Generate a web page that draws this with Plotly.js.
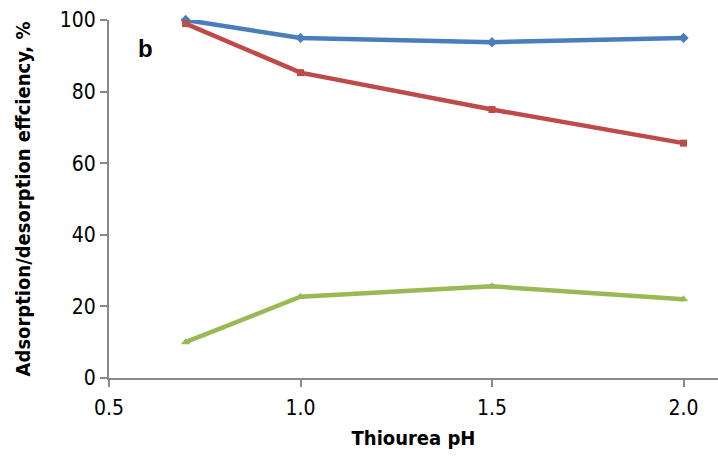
<!DOCTYPE html>
<html>
<head>
<meta charset="utf-8">
<script src="https://cdn.plot.ly/plotly-3.0.1.min.js"></script>
<style>html,body{margin:0;padding:0;background:#fff;}#chart{width:718px;height:459px;}</style>
</head>
<body>
<div id="chart"></div>
<script>
const phValues = [0.7, 1.0, 1.5, 2.0];
const seriesBlue = [100, 95, 93.8, 95];
const seriesRed = [99, 85.3, 75, 65.6];
const seriesGreen = [10, 22.7, 25.6, 22];
const xTickVals = [0.5, 1.0, 1.5, 2.0];
const xTickText = ['0.5', '1.0', '1.5', '2.0'];

const font = '"DejaVu Sans Condensed", "Liberation Sans Narrow", "Liberation Sans", Arial, sans-serif';

const mk = (y, color, symbol, size) => ({
  x: phValues, y: y, type: 'scatter', mode: 'lines+markers',
  line: {color: color, width: 4.5},
  marker: {color: color, symbol: symbol, size: size},
  showlegend: false, cliponaxis: false
});

const data = [
  mk(seriesBlue, '#4A7EBB', 'diamond', 8),
  mk(seriesRed, '#BE4B48', 'square', 7),
  mk(seriesGreen, '#98B954', 'triangle-up', 8)
];

const layout = {
  width: 718, height: 459,
  margin: {l: 109, r: 0, t: 20, b: 81},
  paper_bgcolor: '#fff', plot_bgcolor: '#fff',
  font: {family: font, size: 18, color: '#000'},
  xaxis: {
    range: [0.5, 2.09], tickvals: xTickVals, ticktext: xTickText,
    showgrid: false, zeroline: false, showline: true, linecolor: '#898989', linewidth: 2,
    ticks: 'outside', ticklen: 7, tickcolor: '#898989', tickwidth: 2,
    ticklabelstandoff: 3,
    tickfont: {size: 21, family: font},
    title: {text: '<b>Thiourea pH</b>', font: {size: 20, family: font}, standoff: 12}
  },
  yaxis: {
    range: [0, 100], tickvals: [0, 20, 40, 60, 80, 100],
    showgrid: false, zeroline: false, showline: true, linecolor: '#898989', linewidth: 2,
    ticks: 'outside', ticklen: 7, tickcolor: '#898989', tickwidth: 2,
    tickfont: {size: 21, family: font},
    title: {text: '<b>Adsorption/desorption effciency, %</b>', font: {size: 20, family: font}, standoff: 24}
  },
  annotations: [{
    text: '<b>b</b>', xref: 'paper', yref: 'paper', x: 0.06, y: 0.92,
    xanchor: 'center', yanchor: 'middle', showarrow: false,
    font: {size: 24, family: 'Liberation Sans, Arial, sans-serif', color: '#000'}
  }]
};

Plotly.newPlot('chart', data, layout, {displayModeBar: false, staticPlot: true});
</script>
</body>
</html>
